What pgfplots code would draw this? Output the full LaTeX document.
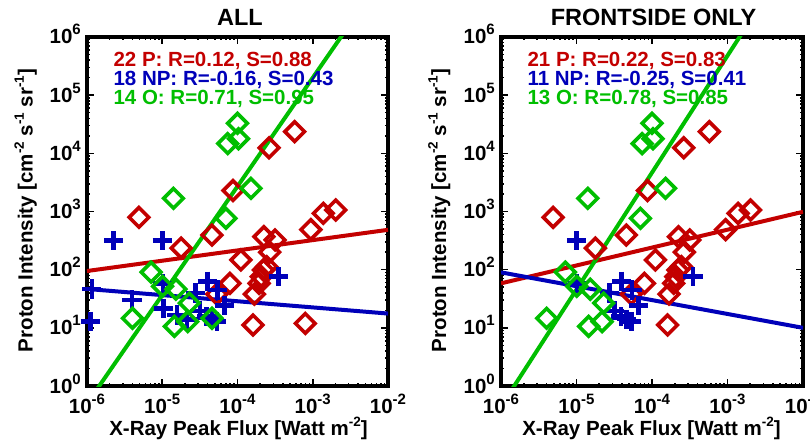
\documentclass[border=0pt]{standalone}
\usepackage{fontspec}
\setmainfont{Liberation Sans}
\usepackage{pgfplots}
\pgfplotsset{compat=1.18}
\definecolor{cP}{RGB}{195,0,0}
\definecolor{cN}{RGB}{0,0,185}
\definecolor{cO}{RGB}{0,190,0}
\newcommand\sups[1]{\raisebox{9pt}{\fontsize{15}{15}\selectfont #1}}
\newcommand\lsup[1]{\raisebox{8.5pt}{\fontsize{13.5}{13.5}\selectfont #1}}
\newcommand\fa{\fontsize{20.5}{24}\selectfont\bfseries}
\newcommand\ft{\fontsize{23.5}{28}\selectfont\bfseries}
\pgfplotsset{
  myax/.style={
    scale only axis, width=301pt, height=349pt,
    xmin=1e-6, xmax=1e-2, ymin=1, ymax=1e6,
    axis line style={line width=3.2pt},
    tick style={line width=1.6pt, black},
    major tick length=7pt, minor tick length=3.5pt,
    tick align=inside, tick pos=both,
    xtick={1e-6,1e-5,1e-4,1e-3,1e-2},
    xticklabels={10\sups{-6},10\sups{-5},10\sups{-4},10\sups{-3},10\sups{-2}},
    ytick={1,10,100,1000,10000,100000,1000000},
    yticklabels={10\sups{0},10\sups{1},10\sups{2},10\sups{3},10\sups{4},10\sups{5},10\sups{6}},
    xticklabel style={font=\fa, anchor=base, inner sep=0pt, yshift=-27pt},
    yticklabel style={font=\fa, anchor=base east, inner sep=0pt, xshift=-6pt, yshift=-7pt},
    clip=true,
  },
  pm/.style={only marks, mark=diamond, mark size=9.8pt, color=cP, line width=3.6pt, mark options={xscale=1.3333}},
  om/.style={only marks, mark=diamond, mark size=9.8pt, color=cO, line width=3.6pt, mark options={xscale=1.3333}},
  nm/.style={only marks, mark=+, mark size=9.6pt, color=cN, line width=4.6pt},
}
\begin{document}
\begin{tikzpicture}
% ---------------- ALL ----------------
\begin{loglogaxis}[myax, at={(87pt,56pt)}, anchor=south west]
\addplot[pm] coordinates {
(5.75e-4,2.36e4) (2.63e-4,1.245e4) (8.71e-5,2291) (4.90e-6,794) (2.02e-3,1062)
(1.38e-3,929) (4.57e-5,394) (9.42e-4,488) (1.78e-5,235) (2.24e-4,369)
(3.16e-4,324) (2.68e-4,200) (1.11e-4,147) (2.21e-4,98.6) (2.07e-4,75.9)
(1.94e-4,58.2) (7.94e-5,58.2) (1.68e-4,38.0) (5.31e-5,38.0) (1.61e-4,11.2)
(2.45e-4,112.7) (7.96e-4,11.9)};
\addplot[nm] coordinates {
(1.0e-5,315) (3.98e-5,63.1) (5.44e-5,44.7) (2.75e-5,39.8) (6.67e-5,24.2)
(3.18e-5,19.6) (3.89e-5,15.6) (4.57e-5,14.1) (5.31e-5,12.8) (3.49e-4,75.9)
(1.02e-5,57.5) (2.26e-6,315) (1.16e-6,46.6) (1.11e-6,12.8) (3.96e-6,30.1)
(1.04e-5,21.6) (1.57e-5,16.6) (2.14e-5,14.0)};
\addplot[om] coordinates {
(1.0e-4,3.28e4) (1.03e-4,1.78e4) (7.41e-5,1.47e4) (1.51e-4,2500) (1.41e-5,1683)
(7.02e-5,764) (7.11e-6,90.6) (1.01e-5,51.8) (1.52e-5,46.2) (2.29e-5,26.7)
(4.02e-6,14.6) (1.45e-5,10.6) (2.18e-5,12.8) (4.58e-5,14.6)};
\addplot[cP, line width=4pt, no marks] coordinates {(1e-6,94.8) (1e-2,484)};
\addplot[cN, line width=4pt, no marks] coordinates {(1e-6,46.6) (1e-2,17.6)};
\addplot[cO, line width=4pt, no marks] coordinates {(7.84e-7,0.316) (4.39e-3,3.16e6)};
\end{loglogaxis}
% ---------------- FRONTSIDE ----------------
\begin{loglogaxis}[myax, at={(501pt,56pt)}, anchor=south west, width=302pt]
\addplot[pm] coordinates {
(5.75e-4,2.36e4) (2.63e-4,1.245e4) (8.71e-5,2291) (4.90e-6,794) (2.02e-3,1062)
(1.38e-3,929) (4.57e-5,394) (9.42e-4,488) (1.78e-5,235) (2.24e-4,369)
(3.16e-4,324) (2.68e-4,200) (1.11e-4,147) (2.21e-4,98.6) (2.07e-4,75.9)
(1.94e-4,58.2) (7.94e-5,58.2) (1.68e-4,38.0) (5.31e-5,38.0) (1.61e-4,11.2)
(2.45e-4,112.7)};
\addplot[nm] coordinates {
(1.0e-5,315) (3.98e-5,63.1) (5.44e-5,44.7) (2.75e-5,39.8) (6.67e-5,24.2)
(3.18e-5,19.6) (3.89e-5,15.6) (4.57e-5,14.1) (5.31e-5,12.8) (3.49e-4,75.9)
(1.02e-5,57.5)};
\addplot[om] coordinates {
(1.0e-4,3.28e4) (1.03e-4,1.78e4) (7.41e-5,1.47e4) (1.51e-4,2500) (1.41e-5,1683)
(7.02e-5,764) (7.11e-6,90.6) (1.01e-5,51.8) (1.52e-5,46.2) (2.29e-5,26.7)
(4.02e-6,14.6) (1.45e-5,10.6) (2.18e-5,12.8)};
\addplot[cP, line width=4pt, no marks] coordinates {(1e-6,58.2) (1e-2,988)};
\addplot[cN, line width=4pt, no marks] coordinates {(1e-6,89.9) (1e-2,10.0)};
\addplot[cO, line width=4pt, no marks] coordinates {(8.43e-7,0.316) (2.56e-3,3.16e6)};
\end{loglogaxis}
% ---------------- texts ----------------
\node[anchor=base, font=\ft] at (240pt,416pt) {ALL};
\node[anchor=base, font=\ft] at (653.5pt,416pt) {FRONTSIDE ONLY};
\node[anchor=base west, font=\fa, text=cP] at (110pt,375.3pt) {22 P: R=0.12, S=0.88};
\node[anchor=base west, font=\fa, text=cN] at (110pt,356.3pt) {18 NP: R=-0.16, S=0.43};
\node[anchor=base west, font=\fa, text=cO] at (110pt,337pt) {14 O: R=0.71, S=0.95};
\node[anchor=base west, font=\fa, text=cP] at (524pt,375.3pt) {21 P: R=0.22, S=0.83};
\node[anchor=base west, font=\fa, text=cN] at (524pt,356.3pt) {11 NP: R=-0.25, S=0.41};
\node[anchor=base west, font=\fa, text=cO] at (524pt,337pt) {13 O: R=0.78, S=0.85};
\node[anchor=base, font=\fa] at (238.5pt,7pt) {X-Ray Peak Flux [Watt m\lsup{-2}]};
\node[anchor=base, font=\fa] at (651.5pt,7pt) {X-Ray Peak Flux [Watt m\lsup{-2}]};
\node[anchor=base, rotate=90, font=\fa] at (32.5pt,231.5pt) {Proton Intensity [cm\lsup{-2} s\lsup{-1} sr\lsup{-1}]};
\node[anchor=base, rotate=90, font=\fa] at (446pt,231.5pt) {Proton Intensity [cm\lsup{-2} s\lsup{-1} sr\lsup{-1}]};
\pgfresetboundingbox
\path[use as bounding box] (0,0) rectangle (810pt,442pt);
\end{tikzpicture}
\end{document}
